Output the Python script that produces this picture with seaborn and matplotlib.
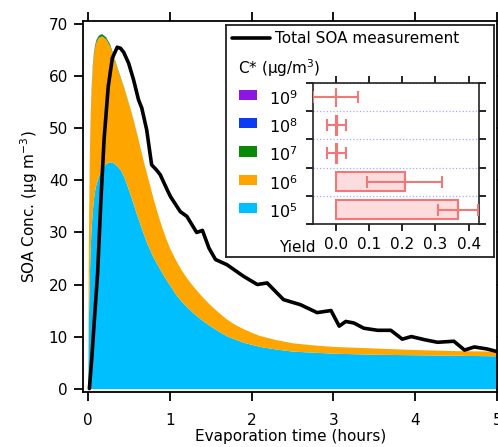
import numpy as np
import matplotlib
matplotlib.use("Agg")
import matplotlib.pyplot as plt
import matplotlib.transforms as mtransforms
from matplotlib.patches import Rectangle
import seaborn as sns

# ---------------- data ----------------
time_model = [0.00, 0.005, 0.01, 0.02, 0.03, 0.04, 0.055, 0.07, 0.085, 0.10,
              0.13, 0.17, 0.22, 0.27, 0.31, 0.35, 0.40, 0.44, 0.48, 0.52,
              0.56, 0.60, 0.64, 0.68, 0.72, 0.76, 0.80, 0.85, 0.90, 0.95,
              1.00, 1.07, 1.13, 1.21, 1.29, 1.40, 1.50, 1.60, 1.70, 1.80,
              1.90, 2.00, 2.10, 2.30, 2.50, 2.75, 3.00, 3.50, 4.00, 4.50,
              5.00]
# top of the C*=1e5 layer (cyan)
c5_top = [0, 8, 15, 22, 27, 30.5, 34, 36.5, 38.2, 39.3,
          40.8, 42.2, 43.3, 43.6, 43.4, 42.9, 42.0, 40.7, 39.0, 37.2,
          35.3, 33.3, 31.5, 29.7, 28.0, 26.6, 25.2, 23.8, 22.4, 21.1,
          19.9, 18.2, 17.0, 15.7, 14.5, 13.1, 12.0, 11.0, 10.1, 9.5,
          8.9, 8.5, 8.1, 7.6, 7.2, 7.0, 6.8, 6.6, 6.5, 6.4,
          6.3]
# top of the C*=1e6 layer (orange)
c6_top = [0, 20, 32, 45, 52, 57, 61.5, 64.2, 65.7, 66.6,
          67.5, 67.8, 67.2, 65.8, 63.9, 61.9, 59.6, 57.8, 55.7, 53.6,
          51.3, 48.8, 46.2, 43.6, 41.2, 38.8, 36.4, 33.7, 31.2, 29.0,
          27.0, 24.8, 23.1, 21.2, 19.6, 17.6, 16.0, 14.6, 13.3, 12.3,
          11.5, 10.8, 10.2, 9.4, 8.8, 8.4, 8.1, 7.8, 7.5, 7.3,
          7.2]
# thin upper layers (C* = 1e7, 1e8, 1e9)
c7_layer = [0, 0.05, 0.1, 0.2, 0.3, 0.35, 0.4, 0.4, 0.4, 0.4,
            0.4, 0.4, 0.35, 0.3, 0.25, 0.2, 0.15, 0.1, 0.08, 0.06,
            0.05, 0.04, 0.03, 0.02, 0.02, 0.01, 0.01, 0, 0, 0,
            0, 0, 0, 0, 0, 0, 0, 0, 0, 0,
            0, 0, 0, 0, 0, 0, 0, 0, 0, 0,
            0]
c8_layer = [0, 0.02, 0.04, 0.08, 0.1, 0.1, 0.1, 0.1, 0.08, 0.07,
            0.05, 0.04, 0.03, 0.02, 0.01, 0, 0, 0, 0, 0,
            0, 0, 0, 0, 0, 0, 0, 0, 0, 0,
            0, 0, 0, 0, 0, 0, 0, 0, 0, 0,
            0, 0, 0, 0, 0, 0, 0, 0, 0, 0,
            0]
c9_layer = [0, 0.02, 0.03, 0.05, 0.05, 0.05, 0.04, 0.03, 0.02, 0.02,
            0.01, 0.01, 0, 0, 0, 0, 0, 0, 0, 0,
            0, 0, 0, 0, 0, 0, 0, 0, 0, 0,
            0, 0, 0, 0, 0, 0, 0, 0, 0, 0,
            0, 0, 0, 0, 0, 0, 0, 0, 0, 0,
            0]

time_meas = [0.02, 0.05, 0.08, 0.12, 0.16, 0.20, 0.25, 0.30, 0.36, 0.40, 0.44, 0.50,
             0.56, 0.62, 0.66, 0.72, 0.78, 0.84, 0.885, 0.97, 1.01, 1.13, 1.21, 1.33,
             1.40, 1.48, 1.56, 1.70, 1.90, 2.07, 2.19, 2.39, 2.60, 2.80, 2.97, 3.07,
             3.15, 3.25, 3.37, 3.54, 3.70, 3.84, 3.95, 4.11, 4.27, 4.47, 4.60, 4.72,
             4.88, 5.00]
soa_meas = [0, 6, 13, 22, 36, 48, 58, 63.5, 65.6, 65.4, 64.6, 62.5,
            59.3, 55.5, 53.9, 49.7, 43.0, 42.0, 41.1, 38.2, 36.9, 34.0, 33.1, 30.0,
            30.4, 27.0, 24.8, 23.8, 21.6, 20.0, 20.3, 17.1, 16.1, 14.6, 15.0, 12.0,
            12.9, 12.6, 11.6, 11.2, 11.2, 9.5, 10.0, 9.4, 8.9, 9.1, 7.4, 8.0,
            7.6, 7.1]

cstar_labels = ["$10^{9}$", "$10^{8}$", "$10^{7}$", "$10^{6}$", "$10^{5}$"]
yield_vals = [0.0, 0.003, 0.003, 0.207, 0.367]
yield_err = [0.068, 0.029, 0.029, 0.112, 0.06]
cstar_colors = ["#8A16E8", "#0A3CF5", "#078A0A", "#FFA500", "#00BFFF"]

yield_ticks = [0.0, 0.1, 0.2, 0.3, 0.4]
x_ticks = [0, 1, 2, 3, 4, 5]
y_ticks = [0, 10, 20, 30, 40, 50, 60, 70]

# ---------------- style ----------------
sns.set_theme(style="ticks")
plt.rcParams['font.family'] = ['DejaVu Sans']
plt.rcParams['axes.edgecolor'] = 'black'
plt.rcParams['xtick.color'] = 'black'
plt.rcParams['ytick.color'] = 'black'
plt.rcParams['text.color'] = 'black'
plt.rcParams['axes.labelcolor'] = 'black'

fig = plt.figure(figsize=(4.98, 4.47), dpi=100)

# ---------------- main axes ----------------
ax = fig.add_axes([0.1673, 0.1237, 0.8313, 0.83])
t = np.array(time_model)
layer5 = np.array(c5_top)
layer6 = np.array(c6_top) - layer5
ax.stackplot(t, layer5, layer6, np.array(c7_layer), np.array(c8_layer), np.array(c9_layer),
             colors=[cstar_colors[4], cstar_colors[3], cstar_colors[2], cstar_colors[1], cstar_colors[0]],
             linewidth=0, zorder=2)
sns.lineplot(x=time_meas, y=soa_meas, color='black', linewidth=2.6, ax=ax, zorder=3)

ax.set_xlim(-0.054, 5.0)
ax.set_ylim(-0.6, 70.7)
ax.set_xticks(x_ticks)
ax.set_yticks(y_ticks)
ax.tick_params(direction='out', length=6.5, width=1.3, top=True, right=True,
               labelsize=11)
ax.tick_params(axis='x', pad=8.5)
ax.tick_params(axis='y', pad=4.5)
for s in ax.spines.values():
    s.set_linewidth(1.3)
    s.set_color('black')
ax.set_xlabel('Evaporation time (hours)', fontsize=11, labelpad=1)
ax.set_ylabel('SOA Conc. (µg m$^{-3}$)', fontsize=11, labelpad=6)

# ---------------- inset frame ----------------
axb = fig.add_axes([0.4538, 0.425, 0.5382, 0.519])
axb.set_xticks([])
axb.set_yticks([])
axb.set_facecolor('white')
for s in axb.spines.values():
    s.set_linewidth(1.3)
    s.set_color('#222222')
axb.plot([0.022, 0.164], [0.943, 0.943], color='black', lw=2.6, transform=axb.transAxes)
axb.text(0.183, 0.943, 'Total SOA measurement', fontsize=11, va='center', ha='left',
         transform=axb.transAxes)
axb.text(0.045, 0.815, 'C* (µg/m$^{3}$)', fontsize=11, va='center', ha='left',
         transform=axb.transAxes)

# ---------------- inset bar chart ----------------
axi = fig.add_axes([0.628, 0.4989, 0.3345, 0.3154])
sns.barplot(x=yield_vals, y=cstar_labels, orient='h', color='#FCDCDC', saturation=1,
            edgecolor='#F07878', linewidth=1.5, width=0.68, ax=axi, zorder=2)
pos = np.arange(len(cstar_labels))
axi.errorbar(yield_vals, pos, xerr=yield_err, fmt='|', ms=9, mew=1.5, color='#F07878',
             ecolor='#F07878', elinewidth=1.5, capsize=4.5, capthick=1.5, zorder=3)

axi.set_xlim(-0.069, 0.432)
axi.set_ylim(4.5, -0.5)
axi.set_xticks(yield_ticks, labels=[f"{v:.1f}" for v in yield_ticks])
axi.set_yticks(np.arange(-0.5, 5.0, 1.0), labels=[""] * 6)
axi.set_yticks(pos, labels=cstar_labels, minor=True)
axi.set_ylabel('')
axi.tick_params(axis='both', which='major', direction='out', length=5, width=1.2,
                top=True, right=True, labelsize=11)
axi.tick_params(axis='x', which='major', pad=4.5)
axi.tick_params(axis='y', which='minor', length=0, labelsize=11.5, pad=11)
axi.yaxis.grid(True, which='major', linestyle=':', color='#A8A8FF', linewidth=0.9)
axi.set_axisbelow(True)
for s in axi.spines.values():
    s.set_linewidth(1.2)
    s.set_color('#222222')
axi.text(0.015, -0.17, 'Yield', fontsize=11, ha='right', va='center', transform=axi.transAxes)

# colored swatches aligned with the inset rows
trans = mtransforms.blended_transform_factory(axb.transAxes, axi.transData)
for i, c in enumerate(cstar_colors):
    axb.add_patch(Rectangle((0.0485, pos[i] - 0.25), 0.067, 0.36, transform=trans,
                            facecolor=c, edgecolor='none', clip_on=False))

fig.savefig('out.png', dpi=100)
